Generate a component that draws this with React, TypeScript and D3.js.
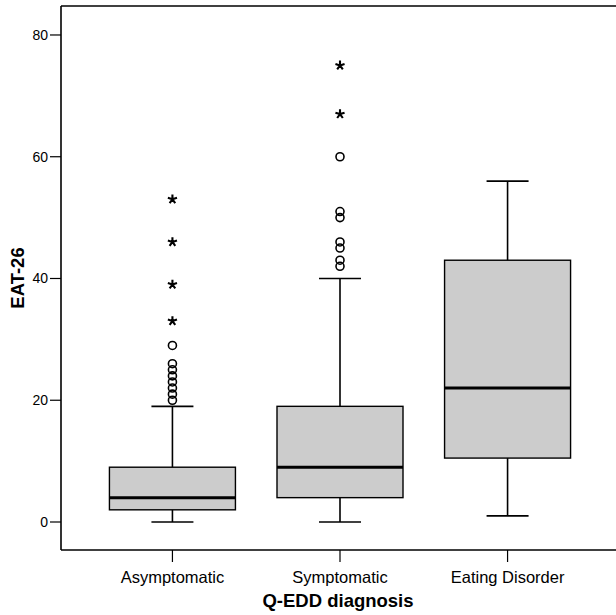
import React from "react";
import * as d3 from "d3";

// Q-EDD diagnosis groups vs EAT-26 scores
const categories = ["Asymptomatic", "Symptomatic", "Eating Disorder"];
const whiskerLow = [0, 0, 1];
const q1 = [2, 4, 10.5];
const median = [4, 9, 22];
const q3 = [9, 19, 43];
const whiskerHigh = [19, 40, 56];
// circles = outliers, stars = extremes
const outliers = [
  [20, 21, 22, 23, 24, 25, 26, 29],
  [42, 43, 45, 46, 50, 51, 60],
  [],
];
const extremes = [[33, 39, 46, 53], [67, 75], []];
const yTicks = [0, 20, 40, 60, 80];

const W = 616;
const H = 615;
const left = 61;
const top = 6;
const bottom = 550;
const font = "Arial, 'Liberation Sans', sans-serif";

const starPath = (r: number) => {
  const p = d3.path();
  for (let k = 0; k < 5; k++) {
    const a = ((-90 + 72 * k) * Math.PI) / 180;
    p.moveTo(0, 0);
    p.lineTo(r * Math.cos(a), r * Math.sin(a));
  }
  return p.toString();
};

export default function App() {
  const y = d3.scaleLinear().domain([-4.6, 84.76]).range([bottom, top]);
  const x = d3.scalePoint().domain(categories).range([left, 619]).padding(0.665);
  const boxW = 126;
  const capW = 42;
  const star = starPath(4.8);

  return (
    <svg
      width={W}
      height={H}
      style={{ position: "absolute", left: 0, top: 0, background: "#fff" }}
    >
      {/* frame */}
      <line x1={left} x2={W} y1={top} y2={top} stroke="#000" strokeWidth={1.6} />
      <line x1={left} x2={W} y1={bottom} y2={bottom} stroke="#000" strokeWidth={1.6} />
      <line x1={left} x2={left} y1={top} y2={bottom} stroke="#000" strokeWidth={1.6} />

      {/* y axis */}
      {yTicks.map((t) => (
        <g key={t} transform={`translate(0,${y(t)})`}>
          <line x1={50} x2={left} stroke="#000" strokeWidth={1.2} />
          <text x={48} dy="0.35em" textAnchor="end" fontFamily={font} fontSize={14}>
            {t}
          </text>
        </g>
      ))}
      <text
        transform={`translate(24,${(top + bottom) / 2}) rotate(-90)`}
        textAnchor="middle"
        fontFamily={font}
        fontWeight="bold"
        fontSize={18.5}
      >
        EAT-26
      </text>

      {/* x axis */}
      {categories.map((c) => (
        <g key={c} transform={`translate(${x(c)},0)`}>
          <line y1={bottom} y2={562} stroke="#000" strokeWidth={1.2} />
          <text y={583} textAnchor="middle" fontFamily={font} fontSize={16.5}>
            {c}
          </text>
        </g>
      ))}
      <text
        x={338}
        y={607}
        textAnchor="middle"
        fontFamily={font}
        fontWeight="bold"
        fontSize={18.5}
      >
        Q-EDD diagnosis
      </text>

      {/* boxes */}
      {categories.map((c, i) => {
        const cx = x(c) as number;
        return (
          <g key={c}>
            <line x1={cx} x2={cx} y1={y(whiskerLow[i])} y2={y(q1[i])} stroke="#000" strokeWidth={1.6} />
            <line x1={cx} x2={cx} y1={y(q3[i])} y2={y(whiskerHigh[i])} stroke="#000" strokeWidth={1.6} />
            <line x1={cx - capW / 2} x2={cx + capW / 2} y1={y(whiskerLow[i])} y2={y(whiskerLow[i])} stroke="#000" strokeWidth={1.6} />
            <line x1={cx - capW / 2} x2={cx + capW / 2} y1={y(whiskerHigh[i])} y2={y(whiskerHigh[i])} stroke="#000" strokeWidth={1.6} />
            <rect
              x={cx - boxW / 2}
              width={boxW}
              y={y(q3[i])}
              height={y(q1[i]) - y(q3[i])}
              fill="#cccccc"
              stroke="#000"
              strokeWidth={1.4}
            />
            <line x1={cx - boxW / 2} x2={cx + boxW / 2} y1={y(median[i])} y2={y(median[i])} stroke="#000" strokeWidth={3} />
            {outliers[i].map((v, j) => (
              <circle key={"o" + j} cx={cx} cy={y(v)} r={4} fill="none" stroke="#000" strokeWidth={1.6} />
            ))}
            {extremes[i].map((v, j) => (
              <path key={"e" + j} d={star} transform={`translate(${cx},${y(v)})`} stroke="#000" strokeWidth={2.1} fill="none" />
            ))}
          </g>
        );
      })}
    </svg>
  );
}
